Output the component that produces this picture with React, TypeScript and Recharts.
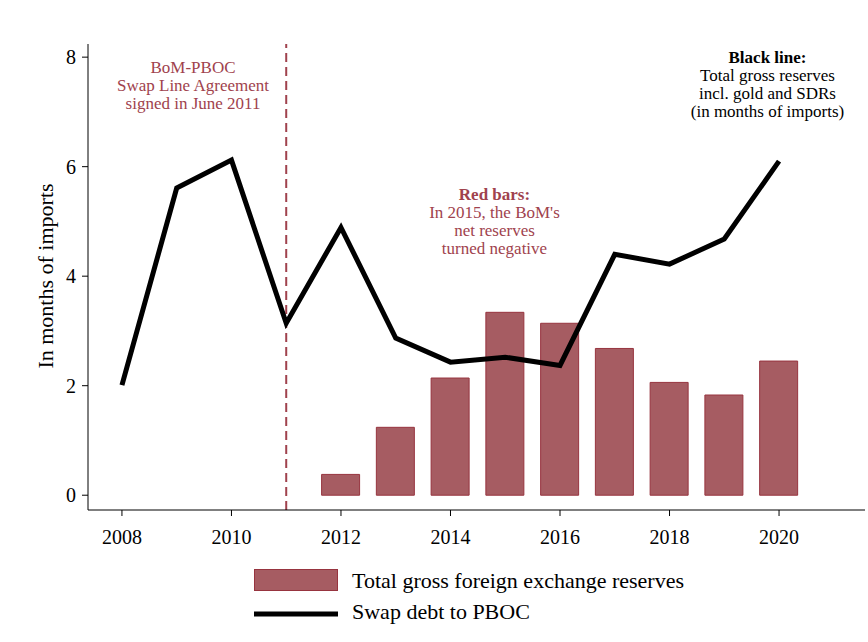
import React from "react";
import {
  ComposedChart,
  Bar,
  Line,
  XAxis,
  YAxis,
  ReferenceLine,
} from "recharts";

const years = [2008, 2009, 2010, 2011, 2012, 2013, 2014, 2015, 2016, 2017, 2018, 2019, 2020];
const barValues: (number | null)[] = [null, null, null, null, 0.38, 1.24, 2.14, 3.34, 3.14, 2.68, 2.06, 1.83, 2.45];
const lineValues = [2.01, 5.61, 6.12, 3.14, 4.89, 2.87, 2.43, 2.52, 2.37, 4.4, 4.22, 4.68, 6.1];
const xTicks = [2008, 2010, 2012, 2014, 2016, 2018, 2020];
const yTicks = [0, 2, 4, 6, 8];
const barLabel = "Total gross foreign exchange reserves";
const lineLabel = "Swap debt to PBOC";

const data = years.map((y, i) => ({ year: y, bar: barValues[i], line: lineValues[i] }));

const FONT = "'Liberation Serif', 'Times New Roman', serif";
const RED = "#a0424d";
const BAR_FILL = "#a65c62";
const BAR_STROKE = "#97343f";

export default function App() {
  return (
    <div style={{ position: "absolute", left: 0, top: 0, width: 868, height: 642, background: "#fff", fontFamily: FONT }}>
      <ComposedChart
        width={868}
        height={642}
        data={data}
        margin={{ top: 44, right: 3, bottom: 82, left: 0 }}
      >
        <XAxis
          dataKey="year"
          type="number"
          domain={[2007.38, 2021.57]}
          ticks={xTicks}
          allowDataOverflow
          height={50}
          tickLine={{ stroke: "#000" }}
          axisLine={{ stroke: "#000" }}
          tickSize={6}
          tick={{ fill: "#000", fontSize: 20, fontFamily: FONT, dy: 12 }}
        />
        <YAxis
          type="number"
          domain={[-0.27, 8.24]}
          ticks={yTicks}
          allowDataOverflow
          width={88}
          tickLine={{ stroke: "#000" }}
          axisLine={{ stroke: "#000" }}
          tickSize={6}
          tick={{ fill: "#000", fontSize: 20, fontFamily: FONT, dx: -4 }}
        />
        <ReferenceLine x={2011} stroke={RED} strokeWidth={2} strokeDasharray="9 5" />
        <Bar
          dataKey="bar"
          barSize={38}
          fill={BAR_FILL}
          stroke={BAR_STROKE}
          strokeWidth={1}
          isAnimationActive={false}
        />
        <Line
          dataKey="line"
          type="linear"
          stroke="#000"
          strokeWidth={5}
          dot={false}
          activeDot={false}
          isAnimationActive={false}
        />
      </ComposedChart>
      <svg
        width={868}
        height={642}
        style={{ position: "absolute", left: 0, top: 0, pointerEvents: "none" }}
      >
        <text
          x={0}
          y={0}
          transform="translate(53,276) rotate(-90)"
          textAnchor="middle"
          fontFamily={FONT}
          fontSize={22}
          fill="#000"
        >
          In months of imports
        </text>
        <g fontFamily={FONT} fontSize={17} textAnchor="middle">
          <text x={193} y={72.5} fill={RED}>BoM-PBOC</text>
          <text x={193} y={90.5} fill={RED}>Swap Line Agreement</text>
          <text x={193} y={108.5} fill={RED}>signed in June 2011</text>

          <text x={494.5} y={200} fill={RED} fontWeight="bold">Red bars:</text>
          <text x={494.5} y={218} fill={RED}>In 2015, the BoM's</text>
          <text x={494.5} y={236} fill={RED}>net reserves</text>
          <text x={494.5} y={254} fill={RED}>turned negative</text>

          <text x={767.5} y={63} fill="#000" fontWeight="bold">Black line:</text>
          <text x={767.5} y={81} fill="#000">Total gross reserves</text>
          <text x={767.5} y={99} fill="#000">incl. gold and SDRs</text>
          <text x={767.5} y={117} fill="#000">(in months of imports)</text>
        </g>
        <g fontFamily={FONT} fontSize={22}>
          <rect x={254.5} y={569.5} width={83} height={21} fill={BAR_FILL} stroke={BAR_STROKE} strokeWidth={1} />
          <text x={352} y={588} fill="#000">{barLabel}</text>
          <line x1={254} x2={338} y1={614} y2={614} stroke="#000" strokeWidth={5} />
          <text x={352} y={619} fill="#000">{lineLabel}</text>
        </g>
      </svg>
    </div>
  );
}
